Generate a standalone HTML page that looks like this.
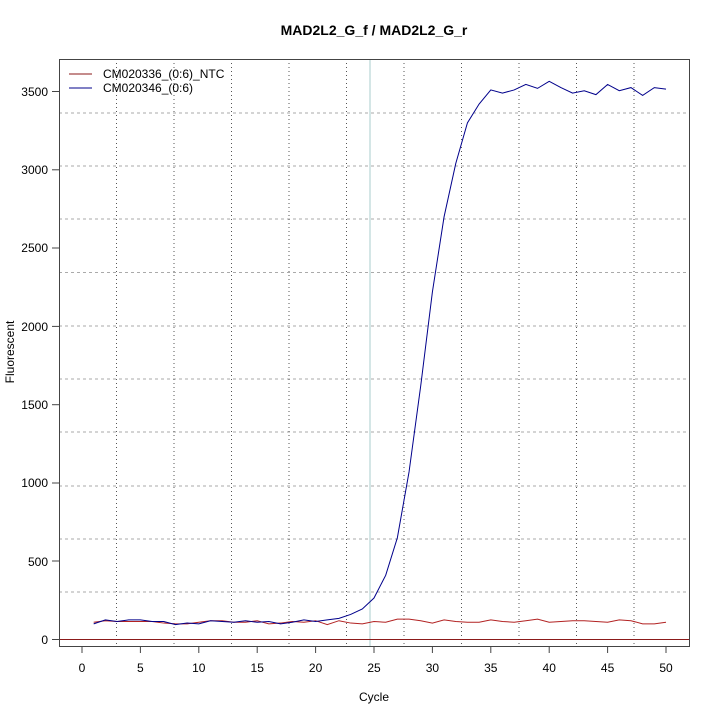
<!DOCTYPE html>
<html><head><style>body{margin:0;background:#fff}svg{display:block}text{font-family:"Liberation Sans",sans-serif}</style></head><body>
<svg width="720" height="720" viewBox="0 0 720 720" xmlns="http://www.w3.org/2000/svg">
<rect width="720" height="720" fill="#fff"/>
<text x="374" y="35" font-size="14" font-weight="bold" text-anchor="middle">MAD2L2_G_f / MAD2L2_G_r</text>
<g stroke="#aaa" stroke-dasharray="3,3" stroke-width="1">
<line x1="59" x2="690" y1="113" y2="113"/><line x1="59" x2="690" y1="166" y2="166"/><line x1="59" x2="690" y1="219" y2="219"/><line x1="59" x2="690" y1="272.5" y2="272.5"/><line x1="59" x2="690" y1="326" y2="326"/><line x1="59" x2="690" y1="379" y2="379"/><line x1="59" x2="690" y1="432" y2="432"/><line x1="59" x2="690" y1="486" y2="486"/><line x1="59" x2="690" y1="539" y2="539"/><line x1="59" x2="690" y1="592" y2="592"/>
</g>
<g stroke="#555" stroke-dasharray="1,3" stroke-width="1">
<line y1="59" y2="646" x1="116.5" x2="116.5"/><line y1="59" y2="646" x1="174" x2="174"/><line y1="59" y2="646" x1="231.5" x2="231.5"/><line y1="59" y2="646" x1="289" x2="289"/><line y1="59" y2="646" x1="346.5" x2="346.5"/><line y1="59" y2="646" x1="404" x2="404"/><line y1="59" y2="646" x1="461.5" x2="461.5"/><line y1="59" y2="646" x1="519" x2="519"/><line y1="59" y2="646" x1="576.5" x2="576.5"/><line y1="59" y2="646" x1="634" x2="634"/>
</g>
<line x1="370" x2="370" y1="59" y2="646" stroke="#aacccc" stroke-width="1"/>
<line x1="59" x2="690" y1="639.5" y2="639.5" stroke="#8b1a1a" stroke-width="1"/>
<g transform="translate(82,639.5) scale(11.68,-0.15657)" fill="none">
<polyline vector-effect="non-scaling-stroke" stroke="#b22222" stroke-width="1" points="1,110 2,120 3,115 4,115 5,115 6,115 7,105 8,100 9,100 10,110 11,120 12,120 13,110 14,110 15,120 16,100 17,105 18,115 19,110 20,120 21,95 22,120 23,105 24,100 25,115 26,110 27,130 28,130 29,120 30,105 31,125 32,115 33,110 34,110 35,125 36,115 37,110 38,120 39,130 40,110 41,115 42,120 43,120 44,115 45,110 46,125 47,120 48,100 49,100 50,110"/>
<polyline vector-effect="non-scaling-stroke" stroke="#00008b" stroke-width="1" points="1,100 2,125 3,115 4,125 5,125 6,115 7,115 8,95 9,105 10,100 11,120 12,115 13,110 14,120 15,110 16,115 17,100 18,110 19,125 20,115 21,125 22,135 23,160 24,195 25,265 26,410 27,650 28,1070 29,1620 30,2220 31,2700 32,3040 33,3300 34,3420 35,3510 36,3490 37,3510 38,3545 39,3520 40,3565 41,3525 42,3490 43,3505 44,3480 45,3545 46,3505 47,3525 48,3475 49,3525 50,3515"/>
</g>
<rect x="59.5" y="59.5" width="630" height="587" fill="none" stroke="#444" stroke-width="1"/>
<line x1="69" x2="92" y1="74" y2="74" stroke="#8b1a1a"/>
<line x1="69" x2="92" y1="88" y2="88" stroke="#00008b"/>
<text x="103" y="78" font-size="12">CM020336_(0:6)_NTC</text>
<text x="103" y="92" font-size="12">CM020346_(0:6)</text>
<g stroke="#444">
<line x1="52" x2="59" y1="639.5" y2="639.5"/><line x1="52" x2="59" y1="561" y2="561"/><line x1="52" x2="59" y1="483" y2="483"/><line x1="52" x2="59" y1="404.7" y2="404.7"/><line x1="52" x2="59" y1="326.4" y2="326.4"/><line x1="52" x2="59" y1="248" y2="248"/><line x1="52" x2="59" y1="169.8" y2="169.8"/><line x1="52" x2="59" y1="91.5" y2="91.5"/>
</g>
<g font-size="12" text-anchor="end">
<text x="48" y="644">0</text><text x="48" y="566">500</text><text x="48" y="487">1000</text><text x="48" y="409">1500</text><text x="48" y="331">2000</text><text x="48" y="252">2500</text><text x="48" y="174">3000</text><text x="48" y="96">3500</text>
</g>
<g stroke="#444">
<line y1="646" y2="653" x1="82" x2="82"/><line y1="646" y2="653" x1="140.4" x2="140.4"/><line y1="646" y2="653" x1="198.8" x2="198.8"/><line y1="646" y2="653" x1="257.2" x2="257.2"/><line y1="646" y2="653" x1="315.6" x2="315.6"/><line y1="646" y2="653" x1="374" x2="374"/><line y1="646" y2="653" x1="432.4" x2="432.4"/><line y1="646" y2="653" x1="490.8" x2="490.8"/><line y1="646" y2="653" x1="549.2" x2="549.2"/><line y1="646" y2="653" x1="607.6" x2="607.6"/><line y1="646" y2="653" x1="666" x2="666"/>
</g>
<g font-size="12" text-anchor="middle">
<text x="82" y="672">0</text><text x="140.4" y="672">5</text><text x="198.8" y="672">10</text><text x="257.2" y="672">15</text><text x="315.6" y="672">20</text><text x="374" y="672">25</text><text x="432.4" y="672">30</text><text x="490.8" y="672">35</text><text x="549.2" y="672">40</text><text x="607.6" y="672">45</text><text x="666" y="672">50</text>
<text x="374" y="701">Cycle</text>
</g>
<text transform="translate(14,352) rotate(-90)" font-size="12" text-anchor="middle">Fluorescent</text>
</svg>
</body></html>
